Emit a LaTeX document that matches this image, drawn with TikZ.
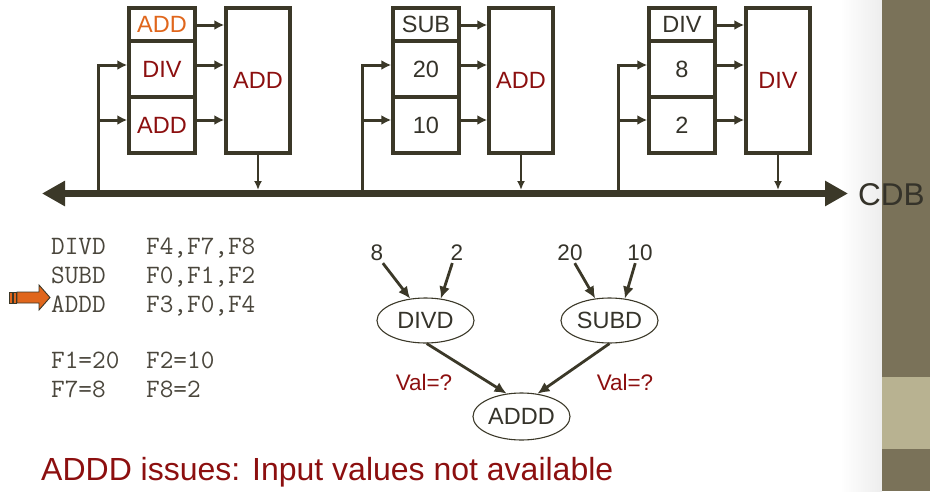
\documentclass[tikz,border=0pt]{standalone}
\usepackage{fontspec}
\setmainfont{Liberation Sans}
\usetikzlibrary{arrows.meta,shapes.geometric}
\definecolor{ln}{HTML}{3B3828}
\definecolor{dred}{HTML}{8C0F0F}
\definecolor{org}{HTML}{E0661C}
\definecolor{txt}{HTML}{35332A}
\definecolor{codec}{HTML}{4A463C}
\definecolor{barc}{HTML}{7A7259}
\definecolor{barl}{HTML}{B8B291}
\begin{document}
\begin{tikzpicture}[x=1pt,y=-1pt,
  cell/.style={draw=ln,line width=3.5pt,fill=white,minimum width=66pt,inner sep=0pt,text=txt,font=\fontsize{23.5}{23.5}\selectfont},
  bigbox/.style={draw=ln,line width=3.5pt,fill=white,minimum width=64pt,minimum height=145pt,inner sep=0pt,text=dred,font=\fontsize{23.5}{23.5}\selectfont},
  rsar/.style={draw=ln,line width=3pt,-{Latex[length=10pt,width=10pt]}},
  outar/.style={draw=ln,line width=2.2pt,-{Latex[length=9pt,width=8pt]}},
  num/.style={text=txt,font=\fontsize{22.5}{22.5}\selectfont,inner sep=2pt},
  ell/.style={ellipse,draw=ln,line width=1.1pt,minimum width=97pt,minimum height=45pt,inner sep=0pt,text=txt,font=\fontsize{23.5}{23.5}\selectfont},
  dfar/.style={draw=ln,line width=2.8pt,-{Latex[length=12pt,width=11pt]}},
  code/.style={anchor=base west,inner sep=0pt,text=codec,font=\ttfamily\fontsize{26.5}{26.5}\selectfont},
  valt/.style={text=dred,font=\fontsize{22.5}{22.5}\selectfont}
]
\path[use as bounding box] (0,0) rectangle (930,491);
% right side bar
\shade[left color=white,right color=black!7] (840,0) rectangle (882,491);
\fill[barc] (882,0) rectangle (930,491);
\fill[barl] (882,377) rectangle (930,449);

% bus
\coordinate (busL) at (42,193.5);
\coordinate (busR) at (848,193.5);
\draw[ln,line width=7.5pt,{Triangle[length=23pt,width=24pt]}-{Triangle[length=23pt,width=24pt]}] (busL) -- (busR);
\node[anchor=west,inner sep=0pt,text=txt,font=\fontsize{31.5}{31.5}\selectfont] (cdb) at (858,195) {CDB};

% group 1
\node[cell,minimum height=33pt,text=org] (s1a) at (162,24.5) {ADD};
\node[cell,minimum height=56pt,text=dred] (s1b) at (162,69) {DIV};
\node[cell,minimum height=56pt,text=dred] (s1c) at (162,125) {ADD};
\node[bigbox] (b1) at (258,80.5) {ADD};
% group 2
\node[cell,minimum height=33pt] (s2a) at (426,24.5) {SUB};
\node[cell,minimum height=56pt] (s2b) at (426,69) {20};
\node[cell,minimum height=56pt] (s2c) at (426,125) {10};
\node[bigbox] (b2) at (521,80.5) {ADD};
% group 3
\node[cell,minimum height=33pt] (s3a) at (682,24.5) {DIV};
\node[cell,minimum height=56pt] (s3b) at (682,69) {8};
\node[cell,minimum height=56pt] (s3c) at (682,125) {2};
\node[bigbox] (b3) at (778,80.5) {DIV};

% station -> unit arrows
\foreach \g in {1,2,3}{
  \draw[rsar] (s\g a.east |- 0,25) -- (b\g.west |- 0,25);
  \draw[rsar] (s\g b.east |- 0,65) -- (b\g.west |- 0,65);
  \draw[rsar] (s\g c.east |- 0,120) -- (b\g.west |- 0,120);
}
% feedback from bus
\coordinate (f1) at (98,193.5);
\coordinate (f2) at (362,193.5);
\coordinate (f3) at (618,193.5);
\foreach \g in {1,2,3}{
  \draw[rsar,line join=miter] (f\g) |- (s\g b.west |- 0,65);
  \draw[rsar] (f\g |- 0,120) -- (s\g c.west |- 0,120);
  \draw[outar] (b\g.south) -- (b\g.south |- 0,190);
}

% code listing
\node[code] (c1a) at (51,254) {DIVD};
\node[code] (c1b) at (146,254) {F4,F7,F8};
\node[code] (c2a) at (51,283) {SUBD};
\node[code] (c2b) at (146,283) {F0,F1,F2};
\node[code] (c3a) at (51,312) {ADDD};
\node[code] (c3b) at (146,312) {F3,F0,F4};
\node[code] (c4a) at (51,368) {F1=20};
\node[code] (c4b) at (146,368) {F2=10};
\node[code] (c5a) at (51,397) {F7=8};
\node[code] (c5b) at (146,397) {F8=2};

% orange pointer arrow
\filldraw[fill=org,draw=ln,line width=0.9pt] (9.5,292) rectangle (12,303);
\filldraw[fill=org,draw=ln,line width=0.9pt] (13.5,292) rectangle (16,303);
\filldraw[fill=org,draw=ln,line width=0.9pt] (17,292) -- (39,292) -- (39,285) -- (50,297.5) -- (39,310) -- (39,303) -- (17,303) -- cycle;

% dataflow graph
\node[num] (n8) at (377,253) {8};
\node[num] (n2) at (457,253) {2};
\node[num] (n20) at (570,253) {20};
\node[num] (n10) at (640,253) {10};
\node[ell] (dv) at (425.5,320.5) {DIVD};
\node[ell] (sb) at (609.5,320.5) {SUBD};
\node[ell,minimum height=47pt] (ad) at (521.5,416.5) {ADDD};
\draw[dfar] (n8.-60) -- (dv.125);
\draw[dfar] (n2.-115) -- (dv.55);
\draw[dfar] (n20.-65) -- (sb.123);
\draw[dfar] (n10.-115) -- (sb.55);
\draw[dfar] (dv.-87) -- (ad.123);
\draw[dfar] (sb.-90) -- (ad.55);
\node[valt] (v1) at (424,382) {Val=?};
\node[valt] (v2) at (625,382) {Val=?};

% caption
\node[anchor=base west,inner sep=0pt,text=dred,font=\fontsize{32}{32}\selectfont] (cap) at (41,480) {ADDD issues: Input values not available};
\end{tikzpicture}
\end{document}
